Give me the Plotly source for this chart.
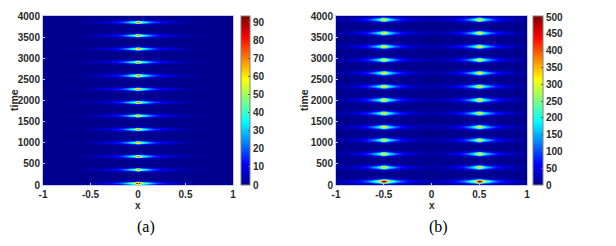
import numpy as np
import plotly.graph_objects as go

# ---- data ----
# panel (a): one pulse train at x = 0
pulse_times_a = [40, 360, 680, 1000, 1320, 1640, 1960, 2270, 2590, 2910, 3220, 3540, 3850]
pulse_peaks_a = [92, 72, 73, 72, 72, 73, 73, 72, 72, 73, 72, 72, 73]
centers_a = [0.0]
# panel (b): two pulse trains at x = -0.5 and x = 0.5
pulse_times_b = [86, 416, 739, 1061, 1375, 1697, 2012, 2334, 2648, 2963, 3277, 3599, 3914]
pulse_peaks_b = [500, 340, 345, 340, 340, 345, 340, 345, 340, 345, 340, 340, 345]
centers_b = [-0.5, 0.5]

cbar_ticks_a = [0, 10, 20, 30, 40, 50, 60, 70, 80, 90]
cbar_ticks_b = [0, 50, 100, 150, 200, 250, 300, 350, 400, 450, 500]
x_ticks_a = [-1, -0.5, 0, 0.5, 1]
x_ticks_b = [-1, -0.5, 0, 0.5, 1]
y_ticks = [0, 500, 1000, 1500, 2000, 2500, 3000, 3500, 4000]

x = np.linspace(-1, 1, 241)
t = np.linspace(0, 4000, 501)
X, T = np.meshgrid(x, t)


def field(times, peaks, centers, comps, st, floor):
    Z = np.zeros_like(X)
    for tk, ak in zip(times, peaks):
        tp = np.exp(-((T - tk) / st) ** 2)
        g = np.full_like(X, floor)
        for c in centers:
            for ci, wi in comps:
                g = g + ci * np.exp(-((X - c) / wi) ** 2)
        Z = Z + ak * tp * g
    return np.round(Z, 2)


Za = field(pulse_times_a, pulse_peaks_a, centers_a,
           [(0.38, 0.025), (0.37, 0.12), (0.25, 0.36)], 38, 0.0)
Zb = field(pulse_times_b, pulse_peaks_b, centers_b,
           [(0.4, 0.03), (0.33, 0.11), (0.27, 0.27)], 50, 0.03)

jet = [[0.0, 'rgb(0,0,143)'], [0.125, 'rgb(0,0,255)'], [0.375, 'rgb(0,255,255)'],
       [0.625, 'rgb(255,255,0)'], [0.875, 'rgb(255,0,0)'], [1.0, 'rgb(128,0,0)']]

# the page body adds an 8px offset; figure coordinates are page coordinates minus 8
OFF = 8
W, H = 616 - OFF, 246 - OFF
def px(v):
    return (v - OFF) / W
def py(v):
    return 1 - (v - OFF) / H

TXT = '#2a2a2a'
font_tick = dict(family='Liberation Sans', size=10, color=TXT, weight='bold')
title_font = dict(family='Liberation Sans', size=10.5, color=TXT, weight='bold')
xlab_font = dict(family='Liberation Sans', size=10, color=TXT, weight='bold')
cap_font = dict(family='Liberation Serif', size=16, color='black')

fig = go.Figure()
cb_common = dict(thickness=9, thicknessmode='pixels', lenmode='fraction',
                 len=(185 - 16) / H, y=py((185 + 16) / 2), yanchor='middle',
                 xanchor='left', outlinewidth=1, outlinecolor='#7f7f7f',
                 ticks='inside', ticklen=2, tickcolor='#555555',
                 tickfont=font_tick, xpad=0, ypad=0)

fig.add_trace(go.Heatmap(x=x, y=t, z=Za, colorscale=jet, zmin=0, zmax=93.5,
                         zsmooth='best', xaxis='x', yaxis='y',
                         colorbar=dict(cb_common, x=px(241), tickvals=cbar_ticks_a)))
fig.add_trace(go.Heatmap(x=x, y=t, z=Zb, colorscale=jet, zmin=0, zmax=503,
                         zsmooth='best', xaxis='x2', yaxis='y2',
                         colorbar=dict(cb_common, x=px(533), thickness=10,
                                       tickvals=cbar_ticks_b)))

ax_common = dict(showgrid=False, zeroline=False, showline=True, mirror=True,
                 linecolor='#c9cbe6', linewidth=1, ticks='inside', ticklen=2,
                 tickcolor='#c9cbe6', tickfont=font_tick, automargin=False)


def label(text, xpix, ypix, font, angle=0):
    return dict(text=text, x=px(xpix), y=py(ypix), xref='paper', yref='paper',
                showarrow=False, font=font, xanchor='center', yanchor='middle',
                textangle=angle)


fig.update_layout(
    width=W, height=H, margin=dict(l=0, r=0, t=0, b=0, autoexpand=False),
    paper_bgcolor='white', plot_bgcolor='white', showlegend=False,
    xaxis=dict(ax_common, domain=[px(43), px(233)], range=[-1, 1], tickvals=x_ticks_a,
               ticktext=['-1', '-0.5', '0', '0.5', '1'], anchor='y'),
    yaxis=dict(ax_common, domain=[py(185), py(16)], range=[0, 4000], tickvals=y_ticks, anchor='x'),
    xaxis2=dict(ax_common, domain=[px(336), px(527)], range=[-1, 1], tickvals=x_ticks_b,
                ticktext=['-1', '-0.5', '0', '0.5', '1'], anchor='y2'),
    yaxis2=dict(ax_common, domain=[py(185), py(16)], range=[0, 4000], tickvals=y_ticks, anchor='x2'),
    annotations=[
        label('time', 14, 100, title_font, -90),
        label('time', 304, 100, title_font, -90),
        label('x', 138, 205, xlab_font),
        label('x', 432, 205, xlab_font),
        label('(a)', 146, 227, cap_font),
        label('(b)', 438, 227, cap_font),
    ],
)

fig.write_html('out.html')
